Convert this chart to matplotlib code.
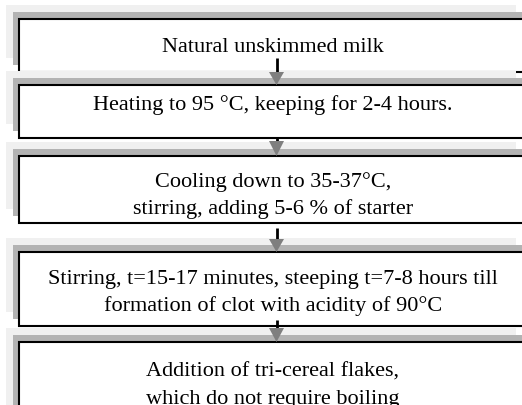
import matplotlib
matplotlib.use("Agg")
import matplotlib.pyplot as plt
from matplotlib.patches import Rectangle, Polygon

# flowchart steps, top to bottom
steps = [
    "Natural unskimmed milk",
    "Heating to 95 \u00b0C, keeping for 2-4 hours.",
    "Cooling down to 35-37\u00b0C,\nstirring, adding 5-6 % of starter",
    "Stirring, t=15-17 minutes, steeping t=7-8 hours till\nformation of clot with acidity of 90\u00b0C",
    "Addition of tri-cereal flakes,\nwhich do not require boiling",
]

# layout in pixels (y grows downwards)
box_left, box_w = 19, 510
box_top = [20, 86, 157, 253, 343]
box_bot = [73, 139, 224, 327, 425]
baseline1 = [52, 110, 187, 284, 377]
line_gap = 27
shadow = 7
text_inset = 9  # text frame ends a bit above the bottom border
arrow_x = 276.5
arrow_line = [(59, 73), (138, 142), (229, 240), (321, 329)]

W, H = 522, 406
fig = plt.figure(figsize=(W / 100, H / 100), dpi=100)
ax = fig.add_axes([0, 0, 1, 1])
ax.set_xlim(0, W)
ax.set_ylim(H, 0)
ax.axis("off")

z = 1
for i, txt in enumerate(steps):
    top, bot = box_top[i], box_bot[i]
    h = bot - top
    ax.add_patch(Rectangle((box_left - 2 * shadow + 1, top - 2 * shadow), box_w, h,
                           facecolor="#f0f0f0", edgecolor="none", zorder=z))
    ax.add_patch(Rectangle((box_left - shadow + 1, top - shadow), box_w, h,
                           facecolor="#b3b3b3", edgecolor="none", zorder=z + 1))
    ax.add_patch(Rectangle((box_left, top), box_w, h, facecolor="white",
                           edgecolor="black", linewidth=1.5, zorder=z + 2))
    frame = Rectangle((box_left, top), box_w, h - text_inset, transform=ax.transData)
    for k, line in enumerate(txt.split("\n")):
        t = ax.text(box_left + box_w / 2 - 1, baseline1[i] + k * line_gap, line,
                    ha="center", va="baseline", fontsize=16,
                    family="Liberation Serif", color="black", zorder=z + 3)
        t.set_clip_path(frame)
    z += 5

for i, (y0, y1) in enumerate(arrow_line):
    tip = box_top[i + 1]
    ax.plot([arrow_x, arrow_x], [y0, y1], color="black", lw=2.0,
            solid_capstyle="butt", zorder=100)
    ax.add_patch(Polygon([(arrow_x - 7.5, y1), (arrow_x + 7.5, y1), (arrow_x, tip)],
                         closed=True, facecolor="#7f7f7f", edgecolor="none", zorder=101))

fig.savefig("out.png", dpi=100)
